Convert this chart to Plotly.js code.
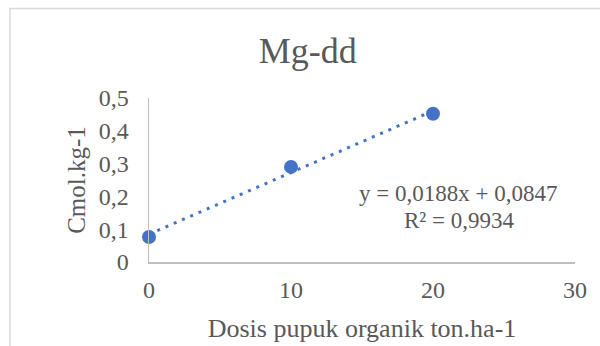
<!DOCTYPE html>
<html>
<head>
<meta charset="utf-8">
<script src="https://cdn.plot.ly/plotly-3.0.1.min.js"></script>
<style>html,body{margin:0;padding:0;background:#fff;}#chart{width:600px;height:346px;}</style>
</head>
<body>
<div id="chart"></div>
<script>
// Data
const doses = [0, 10, 20];
const mgValues = [0.076, 0.29, 0.452];
// Linear trendline (as labelled on the chart), drawn over x = 0..20
const trendX = [0, 20];
const trendY = [0.0847, 0.4607];
const eqText = "y = 0,0188x + 0,0847";
const r2Text = "R² = 0,9934";
const xTicks = [0, 10, 20, 30];
const xTickText = ["0", "10", "20", "30"];
const yTicks = [0, 0.1, 0.2, 0.3, 0.4, 0.5];
const yTickText = ["0", "0,1", "0,2", "0,3", "0,4", "0,5"];

const blue = "#4472C4";
const grey = "#595959";
const FONT = "Liberation Serif, Times New Roman, serif";

const traces = [
  {
    x: doses, y: mgValues, type: "scatter", mode: "markers",
    marker: {color: blue, size: 14}, showlegend: false, cliponaxis: false
  },
  {
    x: trendX, y: trendY, type: "scatter", mode: "lines",
    line: {color: blue, width: 3, dash: "3px,6px"}, showlegend: false
  }
];

const layout = {
  width: 600, height: 346,
  margin: {l: 149, r: 25, t: 98, b: 84, pad: 0},
  paper_bgcolor: "#fff", plot_bgcolor: "#fff",
  font: {family: FONT, color: grey},
  title: {
    text: "Mg-dd", font: {family: FONT, size: 36, color: grey},
    x: 0.513, xref: "container", xanchor: "center",
    y: 0.8555, yref: "container", yanchor: "middle"
  },
  xaxis: {
    range: [0, 30], tickvals: xTicks, ticktext: xTickText,
    showgrid: false, zeroline: false, showline: true, linecolor: "#bfbfbf", linewidth: 1.5,
    ticks: "", ticklabelstandoff: 6, tickfont: {family: FONT, size: 24, color: grey},
    title: {text: "Dosis pupuk organik ton.ha-1", font: {family: FONT, size: 26, color: grey}, standoff: 16},
    fixedrange: true
  },
  yaxis: {
    range: [0, 0.5], tickvals: yTicks, ticktext: yTickText,
    showgrid: false, zeroline: false, showline: true, linecolor: "#bfbfbf", linewidth: 1.5,
    ticks: "", ticklabelstandoff: 14, tickfont: {family: FONT, size: 24, color: grey},
    title: {text: "Cmol.kg-1", font: {family: FONT, size: 25, color: grey}, standoff: 6},
    fixedrange: true
  },
  annotations: [
    {x: 21.74, y: 0.208, xref: "x", yref: "y", text: eqText, showarrow: false,
     xanchor: "center", yanchor: "middle", font: {family: FONT, size: 23, color: grey}},
    {x: 21.8, y: 0.1275, xref: "x", yref: "y", text: r2Text, showarrow: false,
     xanchor: "center", yanchor: "middle", font: {family: FONT, size: 23, color: grey}}
  ],
  shapes: [
    {type: "rect", xref: "paper", yref: "paper", x0: -0.3263, x1: 1.2, y0: -0.7, y1: 1.5457,
     line: {color: "#d9d9d9", width: 1.5}, fillcolor: "rgba(0,0,0,0)", layer: "below"}
  ]
};

Plotly.newPlot("chart", traces, layout, {displayModeBar: false, staticPlot: true});
</script>
</body>
</html>
